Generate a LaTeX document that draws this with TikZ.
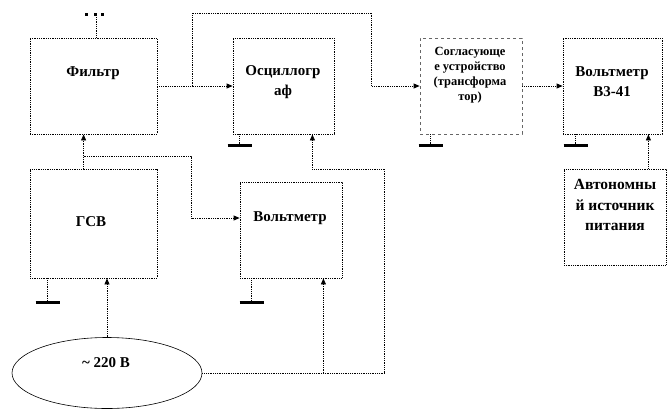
\documentclass[tikz,border=0pt]{standalone}
\usepackage{fontspec}
\setmainfont{Liberation Serif}
\usetikzlibrary{arrows.meta,shapes.geometric}
\begin{document}
\begin{tikzpicture}[x=1pt,y=-1pt,
  box/.style={draw, densely dotted, line width=0.8pt, inner sep=0pt},
  wire/.style={densely dotted, line width=0.8pt},
  arr/.style={wire, -{Triangle[length=6pt,width=5pt]}},
  gnd/.style={line width=3pt},
  lbl/.style={font=\bfseries\fontsize{15}{20}\selectfont, align=center}]
\useasboundingbox (0,0) rectangle (669,413);

% Блоки
\node[box, minimum width=127, minimum height=96] (filt) at (93.5,86) {};
\node[box, minimum width=101, minimum height=96] (osc) at (283.5,86) {};
\node[box, dashed, draw=gray!80!black, minimum width=102, minimum height=96] (match) at (471,86) {};
\node[box, minimum width=99, minimum height=96] (vm41) at (612.5,86) {};
\node[box, minimum width=102, minimum height=96] (auto) at (615,217) {};
\node[box, minimum width=127, minimum height=109] (gsv) at (93.5,223.5) {};
\node[box, minimum width=102, minimum height=96] (vm) at (291,230) {};
\node[draw, ellipse, line width=0.6pt, minimum width=190, minimum height=71] (ell) at (107,373) {};

% Подписи
\node[lbl] (tfilt) at (93,73) {Фильтр};
\node[lbl] (tosc) at (283,82) {Осциллогр\\аф};
\node[lbl, font=\bfseries\fontsize{12.5}{15}\selectfont] (tmatch) at (470,75) {Согласующе\\е устройство\\(трансформа\\тор)};
\node[lbl] (tvm41) at (612,82) {Вольтметр\\В3-41};
\node[lbl, font=\bfseries\fontsize{15.5}{20.5}\selectfont] (tauto) at (615,205) {Автономны\\й источник\\питания};
\node[lbl] (tgsv) at (91,222) {ГСВ};
\node[lbl] (tvm) at (290,218) {Вольтметр};
\node[lbl] (tell) at (106,363) {\textasciitilde{} 220 В};

% Соединения
\coordinate (j1) at ([xshift=54pt]gsv.north west);
\coordinate (j2) at ([xshift=35pt]filt.east);
\coordinate (vin) at ([xshift=-19pt]vm.south east);
\draw[arr] (filt.east) -- (osc.west);
\draw[arr] (j2) -- ++(0,-73) -| ([xshift=-48pt]match.west) -- (match.west);
\draw[arr] (match.east) -- (vm41.west);
\draw[arr] (j1) -- (j1 |- filt.south);
\draw[arr] ([yshift=12pt]j1) -| ([xshift=-48pt,yshift=12pt]vm.west) -- ([yshift=12pt]vm.west);
\draw[arr] (ell.north) -- (ell.north |- gsv.south);
\draw[arr] (ell.east) -- ++(182,0) -- ++(0,-204) -| ([xshift=-22pt]osc.south east);
\draw[arr] (ell.east -| vin) -- (vin);
\draw[arr] ([xshift=-18pt]auto.north east) -- ([xshift=-18pt]auto.north east |- vm41.south);

% Вход фильтра
\draw[wire] ([xshift=2.5pt]filt.north) -- ++(0,-24);
\foreach \x in {86,95,102}
  \fill (\x-1.5,12.5) rectangle ++(3,3);

% Заземления
\foreach \b/\dx/\len in {osc/7/11, match/11/11, vm41/13/11, gsv/18/24, vm/12/24} {
  \draw[wire] ([xshift=\dx pt]\b.south west) -- ++(0,\len) coordinate (g\b);
  \draw[gnd] ([xshift=-12pt]g\b) -- ([xshift=12pt]g\b);
}

\end{tikzpicture}
\end{document}
